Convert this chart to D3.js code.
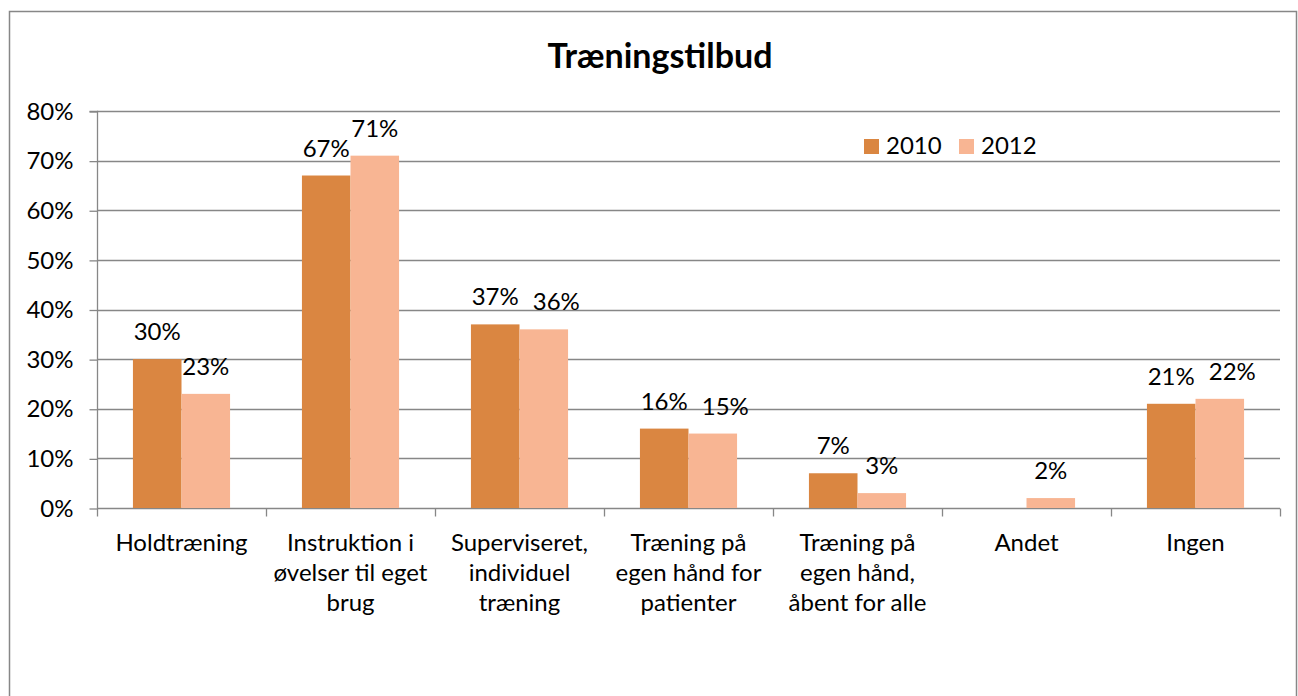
<!DOCTYPE html>
<html><head><meta charset="utf-8">
<script src="https://cdn.jsdelivr.net/npm/d3@7"></script>
<style>
html,body{margin:0;padding:0;background:#fff;}
svg{display:block;}
text{font-family:"Lato","Open Sans",sans-serif;fill:#000;}
</style></head><body>
<svg id="chart" width="1298" height="696"></svg>
<script>
const categories = [
  ["Holdtræning"],
  ["Instruktion i","øvelser til eget","brug"],
  ["Superviseret,","individuel","træning"],
  ["Træning på","egen hånd for","patienter"],
  ["Træning på","egen hånd,","åbent for alle"],
  ["Andet"],
  ["Ingen"]
];
const seriesNames = ["2010","2012"];
const values2010 = [30,67,37,16,7,null,21];
const values2012 = [23,71,36,15,3,2,22];
const yTicks = [0,10,20,30,40,50,60,70,80];
const title = "Træningstilbud";
const colors = ["#DA8641","#F8B593"];

const FS = "24px";
const svg = d3.select("#chart");
// frame
svg.append("rect").attr("x",9.5).attr("y",11.5).attr("width",1287).attr("height",720)
  .attr("fill","#fff").attr("stroke","#878787").attr("stroke-width",1.5);

const m = {left:97, right:1280, top:111, bottom:508};
const idx = categories.map((d,i)=>i);
const x = d3.scaleBand().domain(idx).range([m.left,m.right]).paddingInner(0).paddingOuter(0);
const x1 = d3.scaleBand().domain(seriesNames).range([0,x.bandwidth()]).paddingOuter(0.74).paddingInner(0);
const y = d3.scaleLinear().domain([0,80]).range([m.bottom,m.top]);

// gridlines
svg.append("g").selectAll("line").data(yTicks.filter(t=>t>0)).join("line")
  .attr("x1",m.left).attr("x2",m.right)
  .attr("y1",d=>Math.round(y(d))+0.5).attr("y2",d=>Math.round(y(d))+0.5)
  .attr("stroke","#878787").attr("stroke-width",1.3);

// y axis
const yAxis = d3.axisLeft(y).tickValues(yTicks).tickFormat(d=>d+"%").tickSize(8).tickPadding(16);
const gy = svg.append("g").attr("transform",`translate(${m.left+0.5},0.5)`).call(yAxis);
gy.selectAll("path,line").attr("stroke","#878787").attr("stroke-width",1.3);
gy.select(".domain").attr("d",`M-8,${m.top}H0V${m.bottom}`);
gy.selectAll("text").style("font-family","Lato").style("font-size",FS).attr("fill","#000");

// x axis
const gx = svg.append("g").attr("transform",`translate(0,${m.bottom+0.5})`);
gx.append("line").attr("x1",m.left).attr("x2",m.right).attr("stroke","#878787").attr("stroke-width",1.3);
const bounds = idx.map(i=>x(i)).concat([m.right]);
gx.selectAll("line.tk").data(bounds).join("line").attr("class","tk")
  .attr("x1",d=>Math.round(d)+0.5).attr("x2",d=>Math.round(d)+0.5).attr("y1",0).attr("y2",8)
  .attr("stroke","#878787").attr("stroke-width",1.3);

// category labels
const cl = svg.append("g").selectAll("text").data(categories).join("text")
  .attr("x",(d,i)=>x(i)+x.bandwidth()/2).attr("y",551)
  .attr("text-anchor","middle").style("font-size",FS);
cl.selectAll("tspan").data(d=>d).join("tspan")
  .attr("x",function(){return this.parentNode.getAttribute("x");})
  .attr("dy",(d,i)=>i===0?0:30).text(d=>d);

// bars
const data = idx.map(i=>({i, vals:[values2010[i],values2012[i]]}));
const groups = svg.append("g").selectAll("g").data(data).join("g")
  .attr("transform",d=>`translate(${x(d.i)},0)`);
groups.selectAll("rect").data(d=>d.vals.map((v,k)=>({v,k})).filter(e=>e.v!==null)).join("rect")
  .attr("x",e=>x1(seriesNames[e.k])).attr("width",x1.bandwidth())
  .attr("y",e=>y(e.v)).attr("height",e=>y(0)-y(e.v))
  .attr("fill",e=>colors[e.k]);
groups.each(function(){
  const g = d3.select(this);
  const lbls = g.selectAll("text").data(d=>d.vals.map((v,k)=>({v,k})).filter(e=>e.v!==null)).join("text")
    .attr("x",e=>x1(seriesNames[e.k])+x1.bandwidth()/2).attr("y",e=>y(e.v)-19)
    .attr("text-anchor","middle").style("font-size",FS).text(e=>e.v+"%");
  const nodes = lbls.nodes();
  if(nodes.length===2){
    const b0 = nodes[0].getBBox(), b1 = nodes[1].getBBox();
    const y0 = +nodes[0].getAttribute("y"), y1 = +nodes[1].getAttribute("y");
    if(Math.abs(y0-y1) < 17){
      const shift = b0.x + b0.width + 14 - b1.x;
      if(shift>0) nodes[1].setAttribute("x", +nodes[1].getAttribute("x") + shift);
    }
  }
});

// title
svg.append("text").attr("x",660).attr("y",68).attr("text-anchor","middle")
  .style("font-size","34px").style("font-weight","bold").text(title);

// legend
const lg = svg.append("g");
const lx = [864,959];
seriesNames.forEach((s,k)=>{
  lg.append("rect").attr("x",lx[k]).attr("y",139).attr("width",15).attr("height",15).attr("fill",colors[k]);
  lg.append("text").attr("x",lx[k]+22).attr("y",154).style("font-size",FS).text(s);
});
</script></body></html>
